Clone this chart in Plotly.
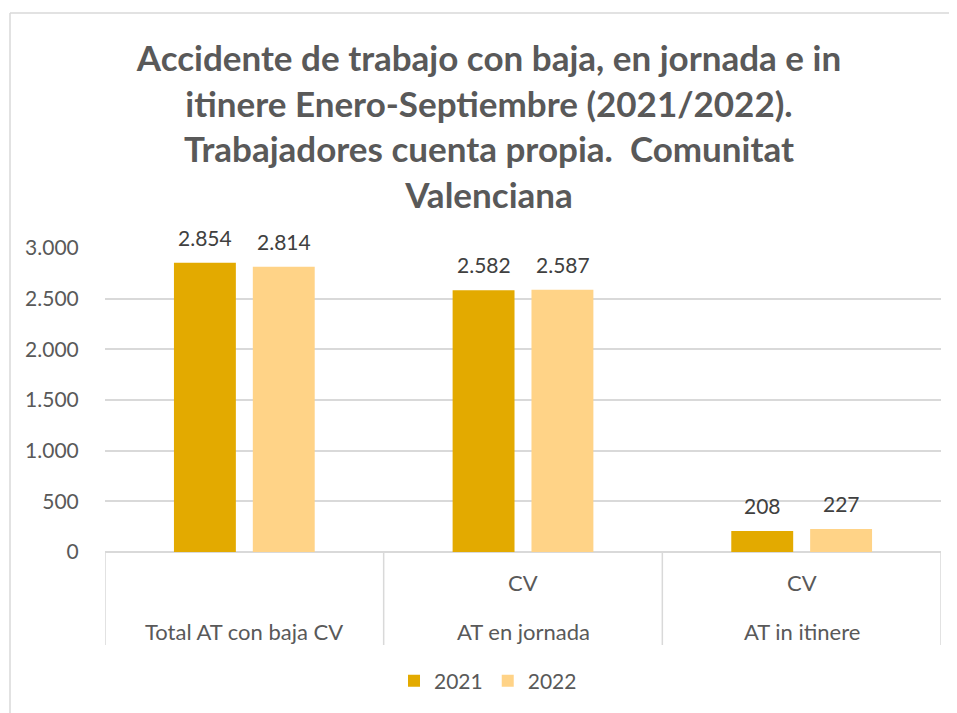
import plotly.graph_objects as go

# ---- data ----
categories = ["Total AT con baja CV", "AT en jornada", "AT in itinere"]
sub_labels = ["", "CV", "CV"]
series_names = ["2021", "2022"]
values_2021 = [2854, 2582, 208]
values_2022 = [2814, 2587, 227]
y_ticks = [0, 500, 1000, 1500, 2000, 2500, 3000]

colors = ["#E3AA00", "#FFD387"]
series_values = [values_2021, values_2022]

OFF = 8  # page body margin
W, H = 949, 705
# screen-space plot box: x 105..941, y 248..552
L = 105 - OFF
T = 248 - OFF
R = W - (941 - OFF)
B = H - (552 - OFF)
PW, PH = W - L - R, H - T - B

def px_x(p):  # screen px -> paper
    return (p - OFF - L) / PW

def px_y(p):
    return (H - B - (p - OFF)) / PH

def fmt(v):
    return f"{v:,}".replace(",", ".")

fig = go.Figure()
for name, vals, col in zip(series_names, series_values, colors):
    fig.add_trace(go.Bar(x=categories, y=vals, name=name, marker=dict(color=col, line=dict(width=0))))

annotations = []
# data labels
for i, vals in enumerate(series_values):
    for c, v in zip(categories, vals):
        annotations.append(dict(x=c, y=v, xref="x", yref="y", text=fmt(v), showarrow=False,
                                xshift=(i - 0.5) * 79, yshift=11, yanchor="bottom",
                                font=dict(family="Lato", size=21, color="#404040")))
# category labels
for c, s in zip(categories, sub_labels):
    if s:
        annotations.append(dict(x=c, y=px_y(582), xref="x", yref="paper", text=s, showarrow=False,
                                yanchor="middle", font=dict(family="Lato", size=22, color="#595959")))
    annotations.append(dict(x=c, y=px_y(631), xref="x", yref="paper", text=c, showarrow=False,
                            yanchor="middle", font=dict(family="Lato", size=22, color="#595959")))

shapes = []
for k in range(len(categories) + 1):
    shapes.append(dict(type="line", xref="x", yref="paper", x0=k - 0.5, x1=k - 0.5,
                       y0=0, y1=px_y(645), line=dict(color="#D9D9D9", width=1.5)))
# chart border
shapes.append(dict(type="line", xref="paper", yref="paper", x0=px_x(10), x1=px_x(10),
                   y0=px_y(13), y1=px_y(720), line=dict(color="#D9D9D9", width=1.5)))
shapes.append(dict(type="line", xref="paper", yref="paper", x0=px_x(10), x1=px_x(960),
                   y0=px_y(13), y1=px_y(13), line=dict(color="#D9D9D9", width=1.5)))

fig.update_layout(
    width=W, height=H,
    margin=dict(l=L, r=R, t=T, b=B, pad=0),
    paper_bgcolor="white", plot_bgcolor="white",
    separators=",.",
    barmode="group", bargap=0.434, bargroupgap=0.215,
    title=dict(text="Accidente de trabajo con baja, en jornada e in<br>itinere Enero-Septiembre (2021/2022).<br>Trabajadores cuenta propia.  Comunitat<br>Valenciana",
               x=(489 - OFF) / W, xanchor="center", xref="container",
               y=1 - (71 - OFF) / H, yanchor="top", yref="container",
               font=dict(family="Lato", size=35, color="#595959", weight="bold")),
    xaxis=dict(showticklabels=False, showgrid=False, showline=False, zeroline=False,
               range=[-0.5, 2.5], fixedrange=True),
    yaxis=dict(range=[0, 3000], tickvals=y_ticks, tickformat=",d", showgrid=True,
               gridcolor="#D9D9D9", gridwidth=1.5, zeroline=True, zerolinecolor="#D9D9D9", zerolinewidth=1.5,
               showline=False, ticks="outside", ticklen=21, tickcolor="rgba(0,0,0,0)",
               tickfont=dict(family="Lato", size=21, color="#595959")),
    legend=dict(orientation="h", x=px_x(394), xanchor="left", y=px_y(681), yanchor="middle",
                font=dict(family="Lato", size=21, color="#595959"), traceorder="normal"),
    annotations=annotations, shapes=shapes,
    showlegend=True,
)

fig.write_html("out.html")
